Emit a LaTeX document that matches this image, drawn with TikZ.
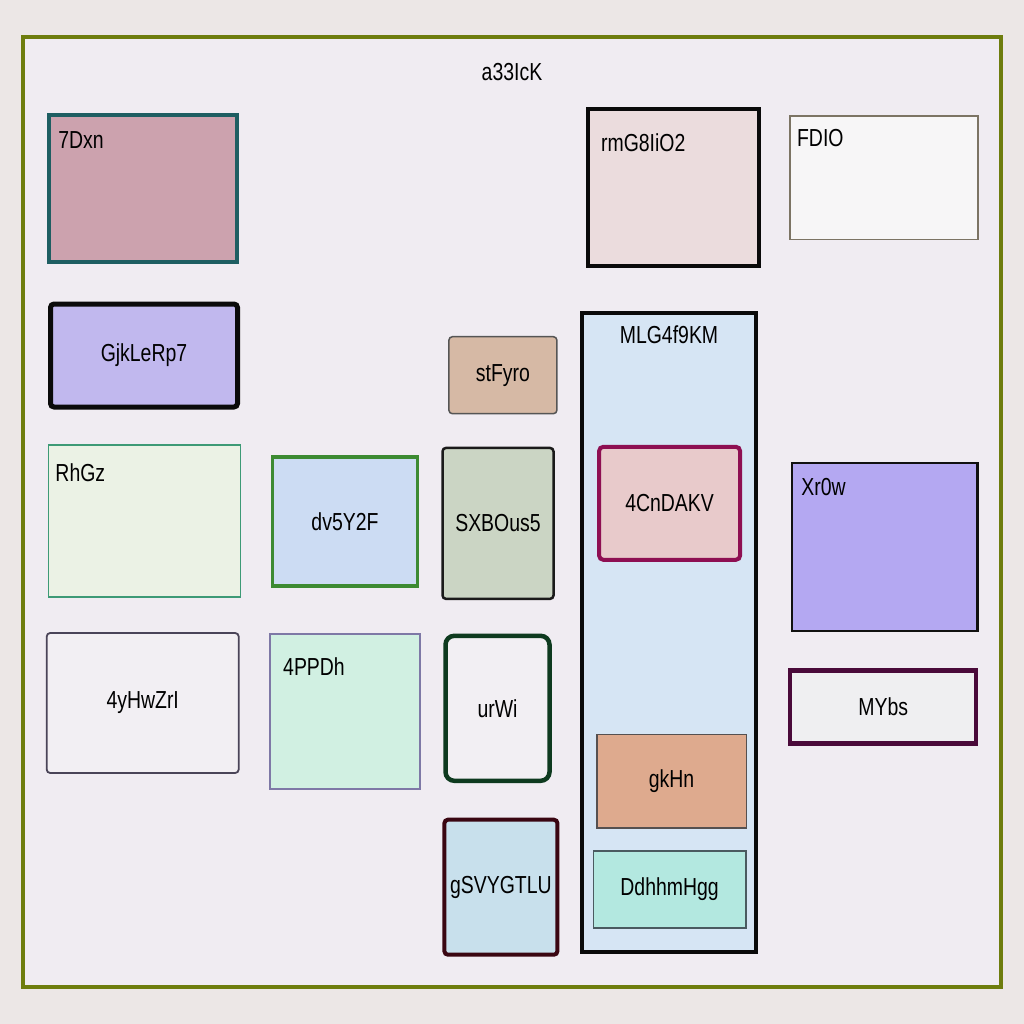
\documentclass[tikz,border=0pt]{standalone}
\usepackage{fontspec}
\setmainfont{Liberation Sans}[FakeStretch=0.79]

\definecolor{pagebg}{HTML}{ECE7E6}
\definecolor{framefill}{HTML}{F0ECF2}
\definecolor{framedraw}{HTML}{6E7D0E}

\begin{document}
\begin{tikzpicture}[x=0.01cm, y=-0.01cm, font=\fontsize{7}{8.4}\selectfont,
    blk/.style={draw, inner sep=0pt, outer sep=0pt},
    sz/.style 2 args={minimum width=#1*0.01cm, minimum height=#2*0.01cm},
    lw/.style={line width=#1*0.01cm},
    tag/.style={inner sep=0pt, outer sep=0pt, anchor=north west}]

  % ----- page and outer frame -----
  \fill[pagebg] (0,0) rectangle (1024,1024);
  \useasboundingbox (0,0) rectangle (1024,1024);
  \node[blk, sz={978}{950}, lw=4.5, draw=framedraw, fill=framefill] (frame) at (512,512) {};
  \node[inner sep=0pt, anchor=north] (frameL) at ([shift={(0,26)}]frame.north) {a33IcK};

  % ----- left column -----
  \node[blk, sz={188}{147}, lw=4, draw={rgb,255:red,30;green,94;blue,98}, fill={rgb,255:red,204;green,162;blue,174}] (dxn) at (143,188.5) {};
  \node[tag] (dxnL) at ([shift={(9.3,16.7)}]dxn.north west) {7Dxn};
  \node[blk, sz={187}{103}, lw=5, rounded corners=1pt, draw={rgb,255:red,10;green,10;blue,10}, fill={rgb,255:red,193;green,184;blue,238}] (gjk) at (144,355.5) {GjkLeRp7};
  \node[blk, sz={192}{152}, lw=1.5, draw={rgb,255:red,61;green,154;blue,118}, fill={rgb,255:red,235;green,242;blue,229}] (rhgz) at (144.5,521) {};
  \node[tag] (rhgzL) at ([shift={(7,18.3)}]rhgz.north west) {RhGz};
  \node[blk, sz={192}{140}, lw=1.8, rounded corners=1pt, draw={rgb,255:red,74;green,68;blue,88}, fill={rgb,255:red,242;green,239;blue,243}] (yhw) at (142.7,703) {4yHwZrI};

  % ----- second column -----
  \node[blk, sz={145}{129}, lw=3.5, draw={rgb,255:red,60;green,138;blue,50}, fill={rgb,255:red,204;green,220;blue,243}] (dv) at (345,521.3) {dv5Y2F};
  \node[blk, sz={150}{155}, lw=1.5, draw={rgb,255:red,126;green,120;blue,166}, fill={rgb,255:red,209;green,240;blue,226}] (ppd) at (344.8,711.6) {};
  \node[tag] (ppdL) at ([shift={(13.4,23.3)}]ppd.north west) {4PPDh};

  % ----- third column -----
  \node[blk, sz={108}{77}, lw=1.5, rounded corners=1pt, draw={rgb,255:red,85;green,85;blue,85}, fill={rgb,255:red,214;green,185;blue,165}] (stf) at (502.9,375.2) {stFyro};
  \node[blk, sz={111}{151}, lw=2.5, rounded corners=1pt, draw={rgb,255:red,26;green,26;blue,26}, fill={rgb,255:red,203;green,213;blue,196}] (sxb) at (498,523.4) {SXBOus5};
  \node[blk, sz={104}{145}, lw=4.5, rounded corners=2.5pt, draw={rgb,255:red,14;green,58;blue,31}, fill={rgb,255:red,242;green,239;blue,243}] (urwi) at (497.5,708.3) {urWi};
  \node[blk, sz={113}{135}, lw=4, rounded corners=1pt, draw={rgb,255:red,58;green,6;blue,18}, fill={rgb,255:red,200;green,224;blue,236}] (gsv) at (500.9,887.2) {gSVYGTLU};

  % ----- container and its children -----
  \node[blk, sz={171}{157}, lw=4, draw={rgb,255:red,10;green,10;blue,10}, fill={rgb,255:red,235;green,220;blue,221}] (rmg) at (673.9,187.4) {};
  \node[tag] (rmgL) at ([shift={(12.7,24.3)}]rmg.north west) {rmG8IiO2};
  \node[blk, sz={174.4}{639.4}, lw=3.5, draw={rgb,255:red,10;green,10;blue,10}, fill={rgb,255:red,214;green,229;blue,244}] (mlg) at (669,632.5) {};
  \node[inner sep=0pt, anchor=north] (mlgL) at ([shift={(0,12.2)}]mlg.north) {MLG4f9KM};
  \node[blk, sz={141}{113}, lw=4, rounded corners=1.2pt, draw={rgb,255:red,142;green,15;blue,82}, fill={rgb,255:red,232;green,202;blue,203}] (cnd) at (669.6,503.3) {4CnDAKV};
  \node[blk, sz={149.5}{93.5}, lw=1.5, draw={rgb,255:red,85;green,80;blue,80}, fill={rgb,255:red,222;green,170;blue,142}] (gkhn) at (671.5,781.1) {gkHn};
  \node[blk, sz={152.5}{77}, lw=1.5, draw={rgb,255:red,74;green,90;blue,96}, fill={rgb,255:red,179;green,232;blue,224}] (ddh) at (669.6,889.5) {DdhhmHgg};

  % ----- right column -----
  \node[blk, sz={188}{123.5}, lw=1.5, draw={rgb,255:red,124;green,116;blue,100}, fill={rgb,255:red,247;green,246;blue,247}] (fdio) at (884.1,177.5) {};
  \node[tag] (fdioL) at ([shift={(7,13.6)}]fdio.north west) {FDIO};
  \node[blk, sz={185.5}{168}, lw=2.5, draw={rgb,255:red,17;green,17;blue,17}, fill={rgb,255:red,180;green,168;blue,242}] (xrow) at (884.5,547) {};
  \node[tag] (xrowL) at ([shift={(9.6,15.3)}]xrow.north west) {Xr0w};
  \node[blk, sz={186}{73}, lw=4.5, draw={rgb,255:red,74;green,10;blue,58}, fill={rgb,255:red,239;green,239;blue,241}] (mybs) at (883.2,707.1) {MYbs};
\end{tikzpicture}
\end{document}
